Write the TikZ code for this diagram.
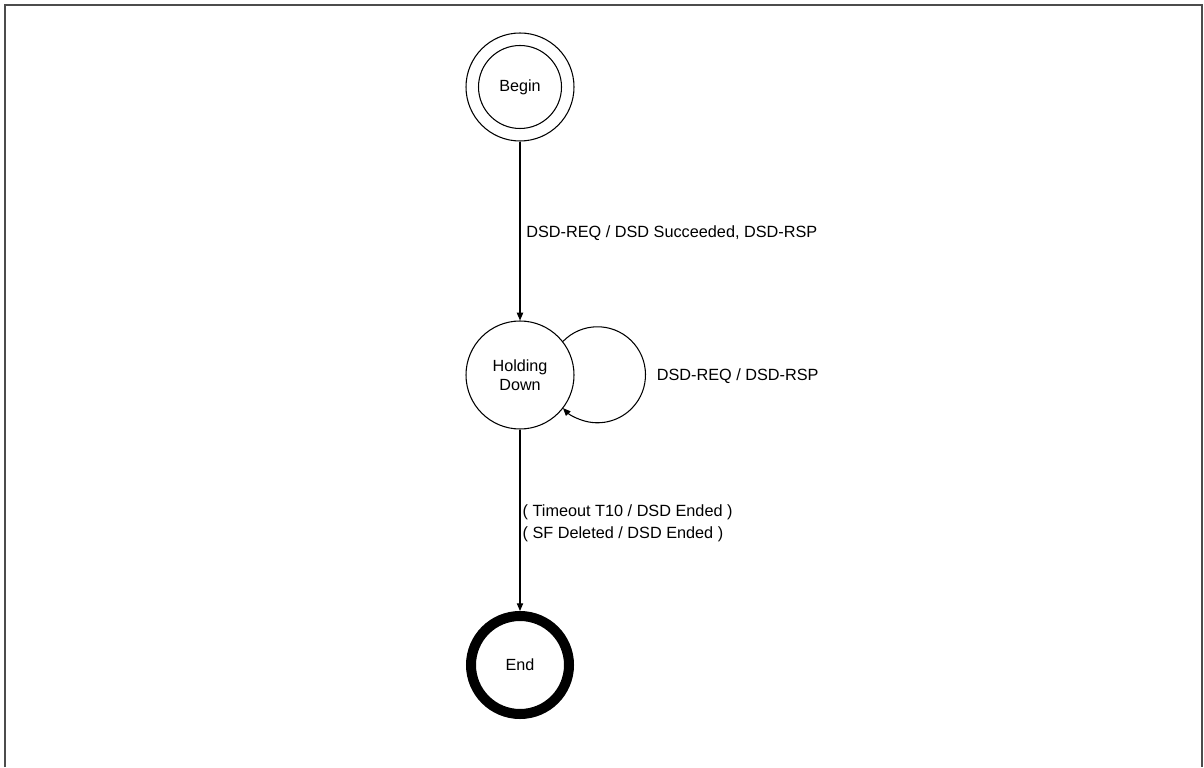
\documentclass[tikz,border=0pt]{standalone}
\usepackage{fontspec}
\setmainfont{Liberation Sans}
\usetikzlibrary{arrows.meta}
\tikzset{pin/.style={-{Triangle[length=4.4pt, width=3.6pt]}},
  st/.style={draw, circle, line width=0.6pt, minimum size=21.6mm, inner sep=0pt, align=center, font=\fontsize{9.2}{10.8}\selectfont}}

\begin{document}
\begin{tikzpicture}[x=0.2mm, y=0.2mm, line width=0.6pt, font=\fontsize{9.25}{12.5}\selectfont]
  \useasboundingbox (0,0) rectangle (1204,767);
  % page frame
  \draw[line width=1.1pt, black!70] (5,0) -- (5,762) -- (1202,762) -- (1202,0);
  % states
  \node[st] (begin) at (520,680) {Begin};
  \draw (begin.center) circle[radius=8.3mm];
  \node[st] (hold) at (520,392) {Holding\\Down};
  \node[st, line width=5.7pt, minimum size=19.6mm] (end) at (520,102) {End};
  % transitions
  \draw[pin] (begin) -- node[right, yshift=-1pt]{DSD-REQ / DSD Succeeded, DSD-RSP} (hold);
  \draw[pin] (hold.38) arc[start angle=136, end angle=-136, radius=9.6mm]
    node[pos=0.5, right, xshift=2.8pt, yshift=-1pt]{DSD-REQ / DSD-RSP};
  \draw[pin] (hold) -- node[right, inner sep=1.2pt, yshift=-1.5pt, align=left]{( Timeout T10 / DSD Ended )\\( SF Deleted / DSD Ended )} (end);
\end{tikzpicture}
\end{document}
